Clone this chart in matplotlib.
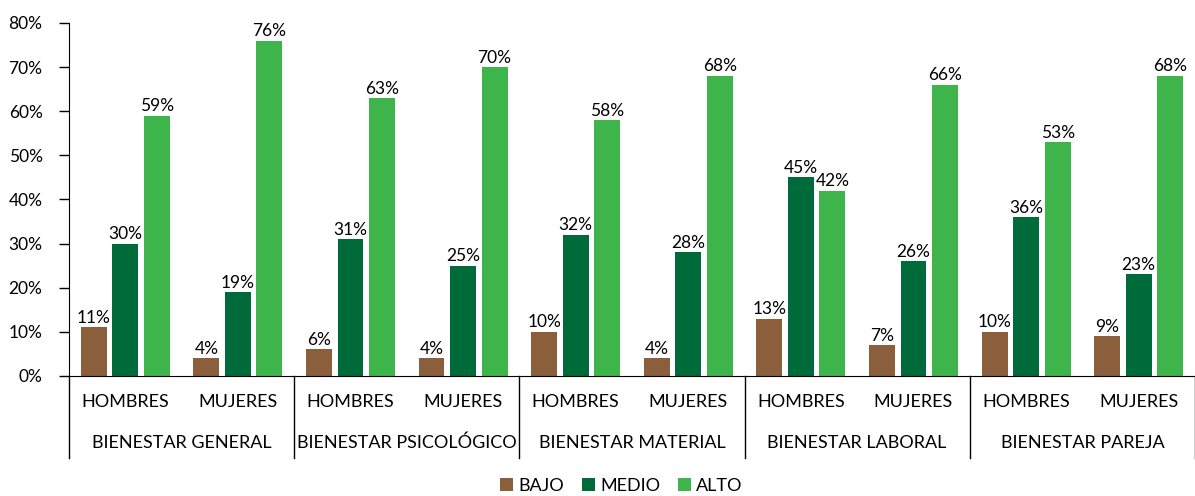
import matplotlib.pyplot as plt
import numpy as np

plt.rcParams['font.family'] = ['Lato', 'DejaVu Sans']

categorias = ['BIENESTAR GENERAL', 'BIENESTAR PSICOLÓGICO', 'BIENESTAR MATERIAL',
              'BIENESTAR LABORAL', 'BIENESTAR PAREJA']
generos = ['HOMBRES', 'MUJERES']

# valores por grupo (hombres/mujeres de cada categoria, en orden)
bajo = [11, 4, 6, 4, 10, 4, 13, 7, 10, 9]
medio = [30, 19, 31, 25, 32, 28, 45, 26, 36, 23]
alto = [59, 76, 63, 70, 58, 68, 42, 66, 53, 68]

series = [('BAJO', bajo, '#8B5E3C'), ('MEDIO', medio, '#006B3A'), ('ALTO', alto, '#3DB54A')]

fig = plt.figure(figsize=(11.95, 4.96), dpi=100)
ax = fig.add_axes([0.0577, 0.242, 0.9423, 0.7118])

x = np.arange(len(bajo))
ancho = 0.23
paso = 0.28
for i, (nombre, vals, color) in enumerate(series):
    barras = ax.bar(x + (i - 1) * paso, vals, ancho, color=color, label=nombre)
    for b, v in zip(barras, vals):
        ax.annotate(f'{v}%', (b.get_x() + b.get_width() / 2, v), xytext=(0, 1),
                    textcoords='offset points', ha='center', va='bottom', fontsize=12.5)

ax.set_xlim(-0.5, len(bajo) - 0.5)
ax.set_ylim(0, 80)
ax.set_yticks(range(0, 81, 10))
ax.set_yticklabels([f'{v}%' for v in range(0, 81, 10)], fontsize=12.5)
ax.tick_params(axis='y', length=7, width=1, pad=12)
ax.set_xticks([])
ax.spines['top'].set_visible(False)
ax.spines['right'].set_visible(False)

# etiquetas de dos niveles en el eje x
trans = ax.get_xaxis_transform()
for j in x:
    ax.text(j, -0.075, generos[j % 2], transform=trans, ha='center', va='center', fontsize=13)
for k, cat in enumerate(categorias):
    ax.text(2 * k + 0.5, -0.19, cat, transform=trans, ha='center', va='center', fontsize=13)
for sep in np.arange(-0.5, len(bajo), 2):
    ax.plot([sep, sep], [0, -0.232], transform=trans, color='black', lw=1, clip_on=False)

fig.legend(loc='center', bbox_to_anchor=(0.52, 0.02), ncol=3, frameon=False, fontsize=13,
           handlelength=0.7, handleheight=0.7, handletextpad=0.3, columnspacing=1.0)

fig.savefig('out.png', dpi=100)
